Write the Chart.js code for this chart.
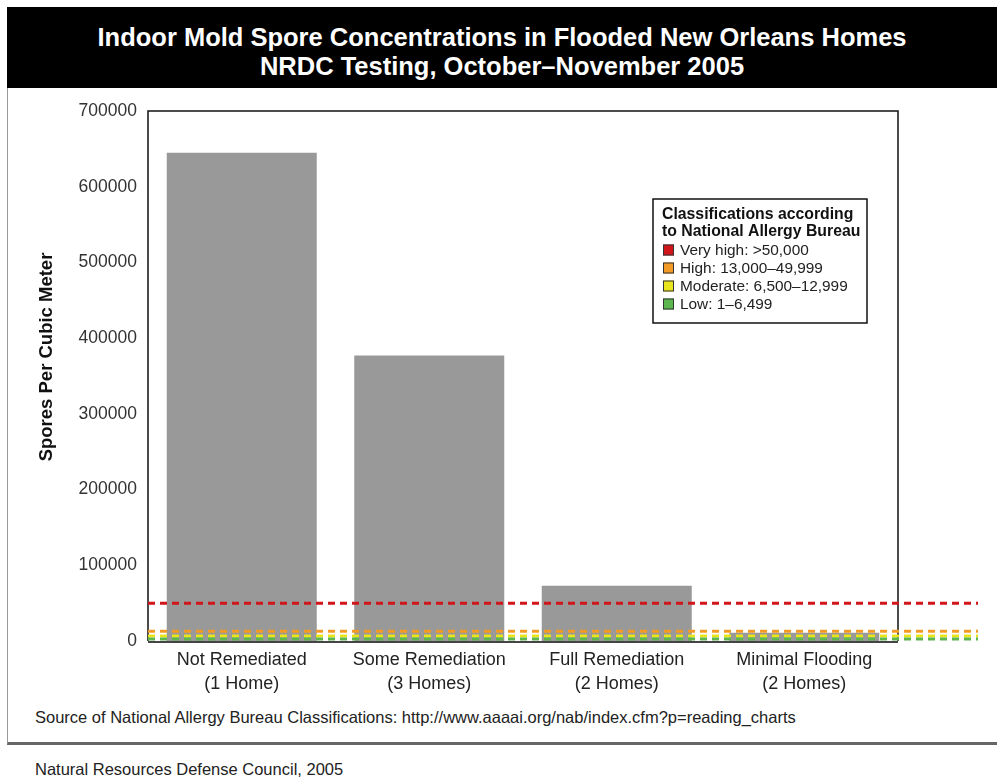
<!DOCTYPE html>
<html>
<head>
<meta charset="utf-8">
<script src="https://cdn.jsdelivr.net/npm/chart.js@4.4.1/dist/chart.umd.min.js"></script>
<style>
body { margin:0; width:997px; height:777px; background:#fff; position:relative; overflow:hidden;
       font-family:'Liberation Sans', Arial, sans-serif; }
#banner { position:absolute; left:7px; top:7px; width:990px; height:65px; padding-top:16px; background:#000;
          color:#fff; font-weight:bold; font-size:25.5px; line-height:29px; text-align:center; }
#panel { position:absolute; left:7px; top:88px; width:995px; height:654px; border-left:1px solid #999; border-bottom:3px solid #666; }
#chartBox { position:absolute; left:0; top:88px; width:997px; height:620px; }
#source { position:absolute; left:35px; top:708px; font-size:16.5px; color:#222; }
#footer { position:absolute; left:35px; top:760px; font-size:16.5px; color:#222; }
</style>
</head>
<body>
<div id="banner">Indoor Mold Spore Concentrations in Flooded New Orleans Homes<br>NRDC Testing, October&ndash;November 2005</div>
<div id="panel"></div>
<div id="chartBox"><canvas id="bar-chart"></canvas></div>
<div id="source">Source of National Allergy Bureau Classifications: http://www.aaaai.org/nab/index.cfm?p=reading_charts</div>
<div id="footer">Natural Resources Defense Council, 2005</div>
<script>
// chart data
const categories = [['Not Remediated', '(1 Home)'], ['Some Remediation', '(3 Homes)'], ['Full Remediation', '(2 Homes)'], ['Minimal Flooding', '(2 Homes)']];
const sporeCounts = [645000, 377000, 73000, 11000];
const yTicks = [0, 100000, 200000, 300000, 400000, 500000, 600000, 700000];

// National Allergy Bureau classes
const classTitle = ['Classifications according', 'to National Allergy Bureau'];
const classLabels = ['Very high: >50,000', 'High: 13,000\u201349,999', 'Moderate: 6,500\u201312,999', 'Low: 1\u20136,499'];
const classLevels = [50000, 13000, 6500, 2500];
const classColors = ['#d0161b', '#f39a26', '#e9e41c', '#5cb84e'];

const FONT = "'Liberation Sans', Arial, sans-serif";

const extras = {
    id: 'extras',
    afterDatasetsDraw(chart) {
        const {ctx, chartArea, scales: {y}} = chart;
        ctx.save();
        // plot frame
        ctx.strokeStyle = '#111';
        ctx.lineWidth = 1.5;
        ctx.beginPath();
        ctx.moveTo(chartArea.left, chartArea.bottom);
        ctx.lineTo(chartArea.left, chartArea.top);
        ctx.lineTo(chartArea.right, chartArea.top);
        ctx.lineTo(chartArea.right, chartArea.bottom);
        ctx.stroke();
        ctx.strokeStyle = '#444';
        ctx.lineWidth = 2;
        ctx.beginPath();
        ctx.moveTo(chartArea.left, chartArea.bottom + 1);
        ctx.lineTo(chartArea.right, chartArea.bottom + 1);
        ctx.stroke();

        // threshold lines, running past the plot
        ctx.setLineDash([7, 5]);
        ctx.lineWidth = 3;
        for (let i = 0; i < classLevels.length; i++) {
            const py = y.getPixelForValue(classLevels[i]);
            ctx.strokeStyle = classColors[i];
            ctx.beginPath();
            ctx.moveTo(chartArea.left, py);
            ctx.lineTo(chartArea.right + 80, py);
            ctx.stroke();
        }
        ctx.setLineDash([]);

        // y title
        ctx.fillStyle = '#111';
        ctx.font = 'bold 18.5px ' + FONT;
        ctx.textAlign = 'center';
        ctx.textBaseline = 'middle';
        ctx.translate(47, 269);
        ctx.rotate(-Math.PI / 2);
        ctx.fillText('Spores Per Cubic Meter', 0, 0);
        ctx.restore();

        // legend box
        ctx.save();
        const bx = chartArea.left + 505, by = chartArea.top + 88, bw = 214, bh = 124;
        ctx.fillStyle = '#fff';
        ctx.fillRect(bx, by, bw, bh);
        ctx.strokeStyle = '#111';
        ctx.lineWidth = 1.5;
        ctx.strokeRect(bx, by, bw, bh);
        ctx.fillStyle = '#111';
        ctx.textAlign = 'left';
        ctx.textBaseline = 'middle';
        ctx.font = 'bold 15.8px ' + FONT;
        classTitle.forEach((t, i) => ctx.fillText(t, bx + 9, by + 16 + i * 17));
        ctx.font = '15.4px ' + FONT;
        classLabels.forEach((t, i) => {
            const cy = by + 51 + i * 18;
            ctx.fillStyle = classColors[i];
            ctx.fillRect(bx + 10, cy - 5.5, 11, 11);
            ctx.strokeStyle = '#333';
            ctx.lineWidth = 1;
            ctx.strokeRect(bx + 10.5, cy - 5, 10, 10);
            ctx.fillStyle = '#222';
            ctx.fillText(t, bx + 27, cy + 1);
        });
        ctx.restore();
    }
};

let barChart = new Chart('bar-chart', {
    type: 'bar',
    plugins: [extras],
    data: {
        labels: categories,
        datasets: [{
            data: sporeCounts,
            backgroundColor: '#999999',
            barPercentage: 0.8,
            categoryPercentage: 1
        }]
    },
    options: {
        responsive: true,
        maintainAspectRatio: false,
        animation: false,
        layout: { padding: { top: 23, right: 99, left: 0, bottom: 0 } },
        plugins: { legend: false, tooltip: false, title: false },
        scales: {
            x: {
                grid: { display: false, drawTicks: false },
                border: { display: false },
                ticks: { color: '#222', font: { family: FONT, size: 18, lineHeight: 1.35 }, padding: 7, maxRotation: 0 },
                afterFit: scale => { scale.height = 67; }
            },
            y: {
                min: 0,
                max: 700000,
                afterBuildTicks: scale => { scale.ticks = yTicks.map(v => ({ value: v })); },
                grid: { display: false, drawTicks: false },
                border: { display: false },
                ticks: { color: '#333', font: { family: FONT, size: 17.5 }, padding: 11, callback: v => String(v) },
                afterFit: scale => { scale.width = 148; }
            }
        }
    }
});
</script>
</body>
</html>
